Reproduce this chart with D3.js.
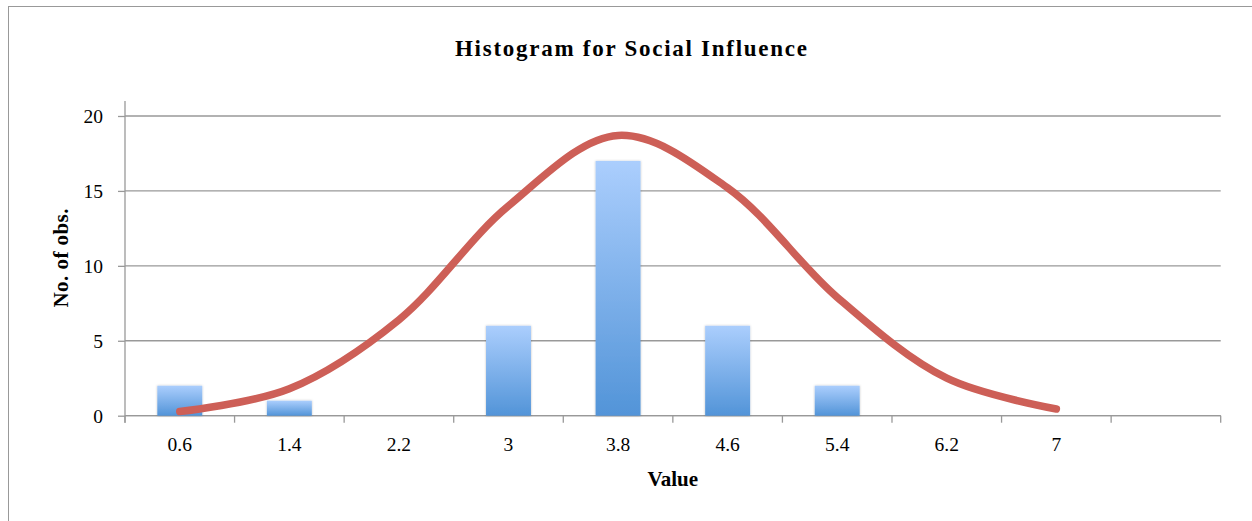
<!DOCTYPE html>
<html lang="en">
<head>
    <meta charset="UTF-8">
    <title>Histogram for Social Influence</title>
    <script src="https://d3js.org/d3.v7.min.js"></script>
    <style>
        body {
            margin: 0;
            background: #fff;
        }
        svg text {
            font-family: 'Liberation Serif', 'DejaVu Serif', serif;
            fill: #000;
        }
    </style>
</head>
<body>
    <div id="chart"></div>

    <script>
        // bins (last one is empty, as in the original sheet)
        const categories = ["0.6", "1.4", "2.2", "3", "3.8", "4.6", "5.4", "6.2", "7", ""];
        const counts = [2, 1, 0, 6, 17, 6, 2, 0, 0, 0];
        // normal curve, one point per bin
        const curveValues = [0.28, 1.8, 6.4, 14.0, 18.7, 15.2, 7.9, 2.5, 0.45];
        const yTicks = [0, 5, 10, 15, 20];

        const width = 1252, height = 521;
        const margin = {top: 101, right: 31.3, bottom: 105.3, left: 125};
        const axisColor = "#999";

        const svg = d3.select("#chart")
            .append("svg")
            .attr("width", width)
            .attr("height", height);

        // outer frame of the chart
        svg.append("rect")
            .attr("x", 8.5)
            .attr("y", 6.5)
            .attr("width", width)
            .attr("height", height)
            .attr("fill", "none")
            .attr("stroke", axisColor);

        const x = d3.scaleBand()
            .domain(categories.map((c, i) => i))
            .range([margin.left, width - margin.right]);

        const y = d3.scaleLinear()
            .domain([0, 21])
            .range([height - margin.bottom, margin.top]);

        const defs = svg.append("defs");
        const grad = defs.append("linearGradient")
            .attr("id", "barGrad")
            .attr("x1", 0).attr("y1", 0).attr("x2", 0).attr("y2", 1);
        grad.append("stop").attr("offset", "0%").attr("stop-color", "#abcefd");
        grad.append("stop").attr("offset", "100%").attr("stop-color", "#5294d8");

        const shadow = defs.append("filter")
            .attr("id", "shadow")
            .attr("x", "-20%").attr("y", "-20%")
            .attr("width", "140%").attr("height", "140%");
        shadow.append("feDropShadow")
            .attr("dx", 0).attr("dy", 0)
            .attr("stdDeviation", 1.2)
            .attr("flood-color", "#000")
            .attr("flood-opacity", 0.25);

        // gridlines
        svg.append("g")
            .selectAll("line")
            .data(yTicks)
            .enter().append("line")
            .attr("x1", margin.left)
            .attr("x2", width - margin.right)
            .attr("y1", d => y(d))
            .attr("y2", d => y(d))
            .attr("stroke", axisColor)
            .attr("stroke-width", 1.3);

        // y axis
        const yAxis = svg.append("g")
            .attr("transform", `translate(${margin.left},0)`)
            .call(d3.axisLeft(y).tickValues(yTicks).tickSize(7).tickPadding(15));
        yAxis.select(".domain").attr("stroke", axisColor).attr("stroke-width", 1.3)
            .attr("d", `M0,${y(21)}V${y(0) + 7}`);
        yAxis.selectAll(".tick line").attr("stroke", axisColor).attr("stroke-width", 1.3);
        yAxis.selectAll(".tick text")
            .style("font-size", "19.5px")
            .attr("dy", "0.35em");

        // x axis: ticks sit between the categories
        const xAxisG = svg.append("g")
            .attr("transform", `translate(0,${y(0)})`);
        xAxisG.append("line")
            .attr("x1", margin.left)
            .attr("x2", width - margin.right)
            .attr("stroke", axisColor)
            .attr("stroke-width", 1.3);
        const bounds = d3.range(categories.length + 1).map(i => margin.left + i * x.step());
        xAxisG.selectAll(".xtick")
            .data(bounds)
            .enter().append("line")
            .attr("x1", d => d).attr("x2", d => d)
            .attr("y1", 0).attr("y2", 7)
            .attr("stroke", axisColor)
            .attr("stroke-width", 1.3);
        xAxisG.selectAll(".xlabel")
            .data(categories)
            .enter().append("text")
            .attr("x", (d, i) => x(i) + x.bandwidth() / 2)
            .attr("y", 35)
            .attr("text-anchor", "middle")
            .style("font-size", "19.5px")
            .text(d => d);

        // bars
        const barW = x.bandwidth() * 0.41;
        svg.append("g")
            .attr("filter", "url(#shadow)")
            .selectAll("rect")
            .data(counts.map((v, i) => ({i, v})).filter(d => d.v > 0))
            .enter().append("rect")
            .attr("x", d => x(d.i) + (x.bandwidth() - barW) / 2)
            .attr("y", d => y(d.v))
            .attr("width", barW)
            .attr("height", d => y(0) - y(d.v))
            .attr("fill", "url(#barGrad)");

        // curve
        const line = d3.line()
            .x((d, i) => x(i) + x.bandwidth() / 2)
            .y(d => y(d))
            .curve(d3.curveCatmullRom.alpha(0.5));

        svg.append("path")
            .datum(curveValues)
            .attr("d", line)
            .attr("fill", "none")
            .attr("stroke", "#cd5f57")
            .attr("stroke-width", 7.5)
            .attr("stroke-linecap", "round")
            .attr("stroke-linejoin", "round");

        // titles
        svg.append("text")
            .attr("x", 631)
            .attr("y", 56)
            .attr("text-anchor", "middle")
            .attr("textLength", 352)
            .attr("lengthAdjust", "spacing")
            .style("font-size", "23px")
            .style("font-weight", "bold")
            .text("Histogram for Social Influence");

        svg.append("text")
            .attr("x", (margin.left + width - margin.right) / 2)
            .attr("y", 486)
            .attr("text-anchor", "middle")
            .style("font-size", "21px")
            .style("font-weight", "bold")
            .text("Value");

        svg.append("text")
            .attr("transform", `translate(68,258) rotate(-90)`)
            .attr("text-anchor", "middle")
            .attr("textLength", 99)
            .attr("lengthAdjust", "spacing")
            .style("font-size", "21px")
            .style("font-weight", "bold")
            .text("No. of obs.");
    </script>
</body>
</html>
